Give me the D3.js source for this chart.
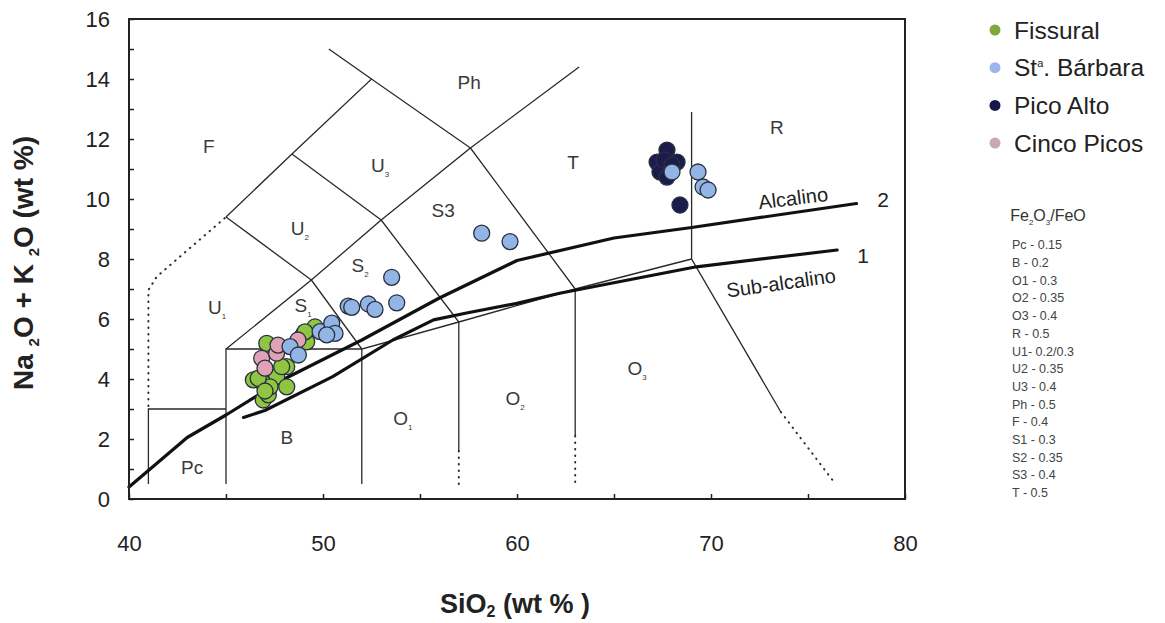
<!DOCTYPE html>
<html><head><meta charset="utf-8">
<script src="https://cdn.jsdelivr.net/npm/d3@7"></script>
<style>body{margin:0;background:#fff}svg{display:block;font-family:"Liberation Sans",Arial,sans-serif}</style>
</head><body><svg id="c" width="1165" height="623"></svg>
<script>
// ---------- data ----------
const xTicks = [40,45,50,55,60,65,70,75,80];
const xTickLabels = [40,50,60,70,80];
const yTicks = [0,1,2,3,4,5,6,7,8,9,10,11,12,13,14,15,16];
const yTickLabels = [0,2,4,6,8,10,12,14,16];

const fissural = [[47.10,5.19],[46.41,3.97],[46.92,3.30],[47.18,3.47],[47.61,4.08],[48.13,3.74],
  [48.13,4.41],[48.98,5.47],[49.59,5.74],[49.16,5.24],[46.92,3.86],[47.27,3.74],[47.87,4.41],
  [46.66,4.02],[49.07,5.57],[47.01,3.60]];
const cincoPicos = [[46.84,4.69],[47.01,4.36],[47.61,4.86],[47.68,5.13],[48.71,5.30]];
const picoAlto = [[67.22,11.23],[67.73,11.63],[68.25,11.23],[67.37,10.90],[67.73,10.73],
  [67.58,11.30],[67.99,11.13],[68.40,9.80]];
const stBarbara = [[48.30,5.08],[48.73,4.80],[49.85,5.58],[50.45,5.86],[50.62,5.52],[50.19,5.47],
  [51.30,6.43],[51.48,6.39],[52.34,6.50],[52.68,6.32],[53.54,7.39],[53.80,6.54],
  [58.18,8.86],[59.64,8.58],[67.99,10.90],[69.33,10.90],[69.59,10.40],[69.85,10.30]];

const seriesNames = ["Fissural","St\u00aa. B\u00e1rbara","Pico Alto","Cinco Picos"];
const seriesFill = ["#8fc540","#93b5e5","#1c1c4c","#e2a2b5"];
const legendFill = ["#7fa83c","#9db4ee","#17174a","#c9a8b0"];

// TAS field boundaries (solid)
const fieldLines = [
  [[41,0.5],[41,3],[45,3]],
  [[45,0.5],[45,5],[52,5]],
  [[52,0.5],[52,5],[57,5.9],[63,7],[69,8]],
  [[57,1.6],[57,5.9]],
  [[63,2.1],[63,7]],
  [[69,12.9],[69,8],[73.6,2.9]],
  [[45,5],[49.4,7.3],[52,5]],
  [[49.4,7.3],[53,9.3],[57,5.9]],
  [[53,9.3],[57.6,11.7],[63,7]],
  [[45,9.4],[48.4,11.5],[52.5,14],[57.6,11.7],[63.2,14.4]],
  [[52.5,14],[50.3,15]],
  [[45,9.4],[49.4,7.3]],
  [[48.4,11.5],[53,9.3]]
];
// dotted extensions
const dottedLines = [
  [[41,3.1],[41,6.97],[41.43,7.41],[45,9.4]],
  [[57,1.6],[57,0.5]],
  [[63,2.1],[63,0.5]],
  [[73.6,2.9],[76.3,0.6]]
];
// alkaline / sub-alkaline dividing curves
const alkalineCurve = [[40,0.4],[43,2.05],[45,2.8],[48,4.0],[52,5.3],[54,6.0],[56,6.7],[60,7.95],[65,8.7],[69,9.05],[77.5,9.85]];
const subalkalineCurve = [[45.9,2.72],[47,2.95],[50.5,4.08],[53.6,5.3],[55.7,5.97],[57.4,6.2],[60,6.52],[62.2,6.86],[69.25,7.74],[76.5,8.3]];

const fieldNames = ["F","Ph","U","T","R","U","S3","S","U","S","Pc","B","O","O","O"];
const fieldSubs  = ["","","3","","","2","","2","1","1","","","1","2","3"];
const fieldX = [44.12,57.53,52.94,62.89,73.4,48.81,56.19,51.91,44.54,48.97,43.25,48.14,54.12,59.9,66.19];
const fieldY = [11.77,13.9,11.13,11.23,12.4,9.03,9.63,7.8,6.4,6.47,1.07,2.07,2.7,3.37,4.37];

const feRatios = ["Pc - 0.15","B - 0.2","O1 - 0.3","O2 - 0.35","O3 - 0.4","R - 0.5","U1- 0.2/0.3",
  "U2 - 0.35","U3 - 0.4","Ph - 0.5","F - 0.4","S1 - 0.3","S2 - 0.35","S3 - 0.4","T - 0.5"];

// ---------- drawing ----------
const svg = d3.select("#c");
const x = d3.scaleLinear().domain([40,80]).range([129,905]);
const y = d3.scaleLinear().domain([0,16]).range([499,19]);
const line = d3.line().x(d=>x(d[0])).y(d=>y(d[1]));

// axes
const gx = svg.append("g").attr("transform",`translate(0,${y(0)})`)
  .call(d3.axisBottom(x).tickValues(xTicks).tickSizeInner(-5).tickSizeOuter(0)
    .tickFormat(d=> xTickLabels.includes(d) ? d : ""));
gx.select(".domain").remove();
gx.selectAll("line").attr("stroke","#222").attr("stroke-width",1.5);
gx.selectAll("text").attr("y",44).attr("dy","0.35em").attr("font-size",22)
  .attr("fill","#222").attr("font-family","Liberation Sans, Arial, sans-serif");

const gy = svg.append("g").attr("transform",`translate(${x(40)},0)`)
  .call(d3.axisLeft(y).tickValues(yTicks).tickSizeInner(-5).tickSizeOuter(0).tickPadding(19)
    .tickFormat(d=> yTickLabels.includes(d) ? d : ""));
gy.select(".domain").remove();
gy.selectAll("line").attr("stroke","#222").attr("stroke-width",1.5);
gy.selectAll("text").attr("font-size",22).attr("fill","#222")
  .attr("font-family","Liberation Sans, Arial, sans-serif");

// field boundaries
svg.append("g").selectAll("path").data(fieldLines).join("path")
  .attr("d",line).attr("fill","none").attr("stroke","#2a2a2a").attr("stroke-width",1.3);
svg.append("g").selectAll("path").data(dottedLines).join("path")
  .attr("d",line).attr("fill","none").attr("stroke","#2a2a2a").attr("stroke-width",2)
  .attr("stroke-dasharray","0.5,6").attr("stroke-linecap","round");

// dividing curves
svg.append("g").selectAll("path").data([alkalineCurve,subalkalineCurve]).join("path")
  .attr("d",line).attr("fill","none").attr("stroke","#111").attr("stroke-width",3.2)
  .attr("stroke-linejoin","round").attr("stroke-linecap","round");

// frame
svg.append("rect").attr("x",x(40)).attr("y",y(16)).attr("width",x(80)-x(40)).attr("height",y(0)-y(16))
  .attr("fill","none").attr("stroke","#222").attr("stroke-width",2);

// field labels
const fl = svg.append("g").attr("fill","#3a3a3a").attr("font-size",19);
fieldNames.forEach((n,i)=>{
  const t = fl.append("text").attr("x",x(fieldX[i])).attr("y",y(fieldY[i])).attr("dy","0.35em")
    .attr("text-anchor","middle").text(n);
  if (fieldSubs[i]) t.append("tspan").attr("font-size",8).attr("dy",5).text(fieldSubs[i]);
});

// curve labels
svg.append("text").attr("transform",`translate(${x(74.23)},${y(10.03)}) rotate(-7)`)
  .attr("text-anchor","middle").attr("dy","0.35em").attr("font-size",20).attr("fill","#222").text("Alcalino");
svg.append("text").attr("transform",`translate(${x(73.61)},${y(7.2)}) rotate(-8)`)
  .attr("text-anchor","middle").attr("dy","0.35em").attr("font-size",20).attr("fill","#222").text("Sub-alcalino");
svg.append("text").attr("x",x(78.87)).attr("y",y(9.97)).attr("dy","0.35em").attr("text-anchor","middle")
  .attr("font-size",21).attr("fill","#222").text("2");
svg.append("text").attr("x",x(77.84)).attr("y",y(8.1)).attr("dy","0.35em").attr("text-anchor","middle")
  .attr("font-size",21).attr("fill","#222").text("1");

// points
const allSeries = [fissural, stBarbara, picoAlto, cincoPicos];
const drawOrder = [0,3,2,1];
drawOrder.forEach(si=>{
  svg.append("g").selectAll("circle").data(allSeries[si]).join("circle")
    .attr("cx",d=>x(d[0])).attr("cy",d=>y(d[1])).attr("r",8)
    .attr("fill",seriesFill[si]).attr("stroke","#283040").attr("stroke-width",1.3);
});

// legend
const lg = svg.append("g");
seriesNames.forEach((n,i)=>{
  const yy = 30 + i*37.7;
  lg.append("circle").attr("cx",995).attr("cy",yy).attr("r",5.5).attr("fill",legendFill[i]);
  const t = lg.append("text").attr("x",1014).attr("y",yy).attr("dy","0.35em").attr("font-size",24.5).attr("fill","#222");
  if (i===1) {
    t.append("tspan").text("St");
    t.append("tspan").attr("font-size",11).attr("dy",-9).text("a");
    t.append("tspan").attr("dy",9).text(". B\u00e1rbara");
  } else t.text(n);
});

// Fe2O3/FeO list
const ft = svg.append("text").attr("x",1048).attr("y",215).attr("dy","0.35em").attr("text-anchor","middle")
  .attr("font-size",16).attr("fill","#333");
ft.append("tspan").text("Fe");
ft.append("tspan").attr("font-size",8).attr("dy",4).text("2");
ft.append("tspan").attr("dy",-4).text("O");
ft.append("tspan").attr("font-size",8).attr("dy",4).text("3");
ft.append("tspan").attr("dy",-4).text("/FeO");
svg.append("g").selectAll("text").data(feRatios).join("text")
  .attr("x",1012).attr("y",(d,i)=>245 + i*17.7).attr("dy","0.35em")
  .attr("font-size",12.5).attr("fill","#444").text(d=>d);

// axis titles
const yt = svg.append("text").attr("transform","translate(33,263) rotate(-90)").attr("text-anchor","middle")
  .attr("font-size",28).attr("font-weight","bold").attr("fill","#222");
yt.append("tspan").text("Na ");
yt.append("tspan").attr("font-size",15).attr("dy",6).text("2");
yt.append("tspan").attr("dy",-6).text("O + K ");
yt.append("tspan").attr("font-size",15).attr("dy",6).text("2");
yt.append("tspan").attr("dy",-6).text("O (wt %)");

const xt = svg.append("text").attr("x",515).attr("y",613).attr("text-anchor","middle")
  .attr("font-size",27).attr("font-weight","bold").attr("fill","#222");
xt.append("tspan").text("SiO");
xt.append("tspan").attr("font-size",16).attr("dy",4).text("2");
xt.append("tspan").attr("dy",-4).text(" (wt % )");
</script></body></html>
